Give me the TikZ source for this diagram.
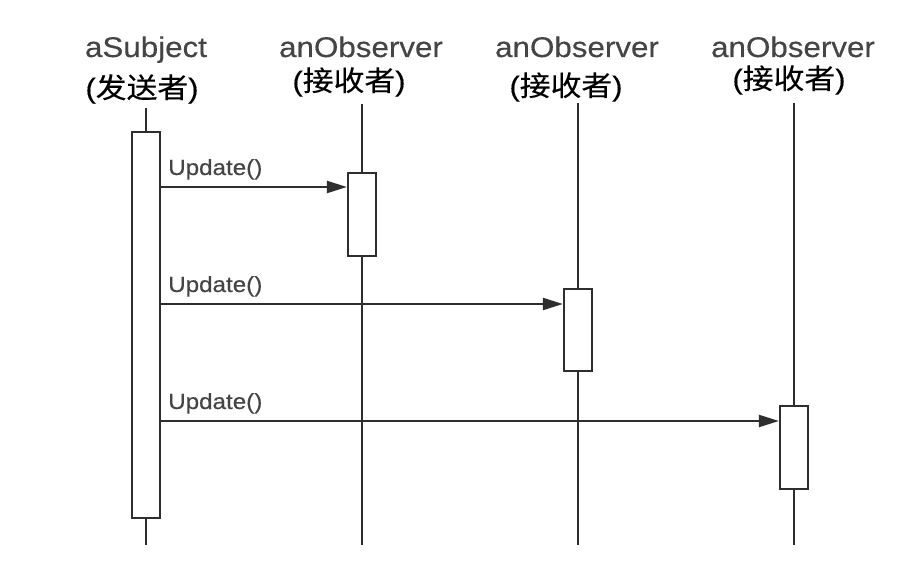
\documentclass[tikz,border=0pt]{standalone}
\usepackage{fontspec}
\setmainfont{Liberation Sans}[FakeStretch=1.1,FakeBold=0.4]
\newfontfamily\cjk{Noto Sans CJK SC}[FakeStretch=1.1,FakeBold=0.3]
\usetikzlibrary{arrows.meta}
\definecolor{ink}{HTML}{2E2E2E}
\definecolor{txt}{HTML}{454545}
\tikzset{
  act/.style={draw=ink, line width=2.2pt, fill=white, minimum width=28pt, inner sep=0pt},
  life/.style={draw=ink, line width=2.2pt},
  msg/.style={draw=ink, line width=2.2pt, -{Triangle[length=20pt,width=12pt]}},
  head/.style={font=\fontsize{28.5}{32}\selectfont, text=txt, anchor=base, inner sep=0pt},
  role/.style={font=\fontsize{28}{32}\selectfont, text=black, inner sep=0pt},
  lbl/.style={font=\fontsize{22}{25}\selectfont, text=txt, anchor=base west, inner sep=0pt}
}
\begin{document}
\begin{tikzpicture}[x=1pt,y=-1pt]
\useasboundingbox (0,0) rectangle (918,564);
% headers
\node[head] (h0) at (146,57) {aSubject};
\node[head] (h1) at (361,57) {anObserver};
\node[head] (h2) at (577,57) {anObserver};
\node[head] (h3) at (793,57) {anObserver};
\node[role] (r0) at (142,89) {(\cjk 发送者\rmfamily)};
\node[role] (r1) at (349,82) {(\cjk 接收者\rmfamily)};
\node[role] (r2) at (566,87) {(\cjk 接收者\rmfamily)};
\node[role] (r3) at (789,80) {(\cjk 接收者\rmfamily)};
% lifeline ends
\coordinate (t0) at (146,108); \coordinate (b0) at (146,545);
\coordinate (t1) at (362,104); \coordinate (b1) at (362,545);
\coordinate (t2) at (578,103); \coordinate (b2) at (578,545);
\coordinate (t3) at (794,103); \coordinate (b3) at (794,545);
% activation boxes
\node[act, minimum height=386pt] (a0) at (146,325) {};
\node[act, minimum height=83pt] (a1) at (362,214.5) {};
\node[act, minimum height=82pt] (a2) at (578,330) {};
\node[act, minimum height=83pt] (a3) at (794,447.5) {};
% lifelines
\draw[life] (t0) -- (a0.north) (a0.south) -- (b0);
\draw[life] (t1) -- (a1.north) (a1.south) -- (b1);
\draw[life] (t2) -- (a2.north) (a2.south) -- (b2);
\draw[life] (t3) -- (a3.north) (a3.south) -- (b3);
% messages
\coordinate (m1) at (0,187);
\coordinate (m2) at (0,304);
\coordinate (m3) at (0,421);
\draw[msg] (a0.east |- m1) -- (a1.west |- m1);
\draw[msg] (a0.east |- m2) -- (a2.west |- m2);
\draw[msg] (a0.east |- m3) -- (a3.west |- m3);
\node[lbl] (u1) at (168,175) {Update()};
\node[lbl] (u2) at (168,292) {Update()};
\node[lbl] (u3) at (168,409) {Update()};
\end{tikzpicture}
\end{document}
